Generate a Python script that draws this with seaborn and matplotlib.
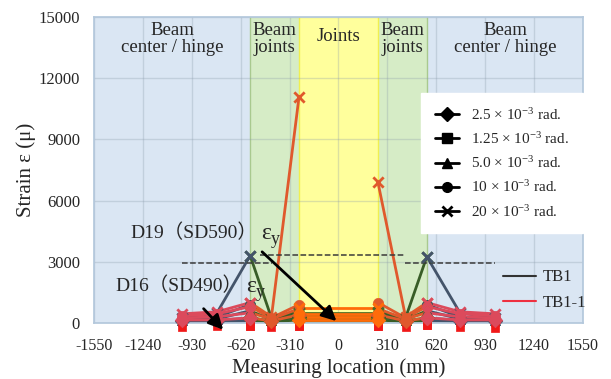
import numpy as np
import pandas as pd
import matplotlib.pyplot as plt
import matplotlib.lines as mlines
import seaborn as sns

# measuring locations (mm)
locations = [-990, -770, -560, -425, -250, 250, 425, 560, 770, 990]

# strain (micro) per drift level, TB1
tb1_125 = [50, 60, 100, 60, 150, 150, 60, 100, 60, 50]
tb1_25 = [100, 120, 250, 100, 300, 300, 100, 250, 120, 100]
tb1_50 = [150, 200, 600, 150, 400, 400, 150, 600, 200, 150]
tb1_10 = [200, 300, 900, 200, 500, 500, 200, 900, 300, 200]
tb1_20 = [250, 500, 3300, 250, 550, 550, 250, 3250, 500, 250]

# strain (micro) per drift level, TB1-1
tb11_125 = [-200, -150, -150, -200, -150, -150, -200, -100, -200, -250]
tb11_25 = [150, 150, 250, 100, 400, 400, 100, 250, 150, 150]
tb11_50 = [250, 300, 500, 200, 700, 700, 200, 500, 300, 250]
tb11_10 = [350, 450, 800, 250, 900, 1000, 250, 800, 450, 350]
tb11_20 = [450, 550, 1000, 300, 11100, 6900, 300, 1000, 550, 450]

# values inside the joint zone at -250 / 250
tb1_joint = [[100, 100], [200, 200], [300, 300], [400, 400], [500, 500]]
tb11_joint = [[-150, -150], [150, 150], [300, 300], [450, 450], [750, 750]]

drifts = ['1.25', '2.5', '5.0', '10', '20']
legend_order = ['2.5', '1.25', '5.0', '10', '20']
markers = {'1.25': 's', '2.5': 'D', '5.0': '^', '10': 'o', '20': 'x'}

zones = [('Beam\ncenter / hinge', -1550, -560, '#dae6f3'),
         ('Beam\njoints', -560, -250, '#d6ecc6'),
         ('Joints', -250, 250, '#ffff9c'),
         ('Beam\njoints', 250, 560, '#d6ecc6'),
         ('Beam\ncenter / hinge', 560, 1550, '#dae6f3')]

colors = {('TB1', 'outer'): '#44546a', ('TB1', 'bj'): '#385d27', ('TB1', 'joint'): '#4f6b22',
          ('TB1-1', 'outer'): '#dc4a5c', ('TB1-1', 'bj'): '#e0592c', ('TB1-1', 'joint'): '#ff6c0a'}

# build long table split into segments by zone
segments = [('outer', [0, 1, 2]), ('bj', [2, 3, 4]), ('bj', [5, 6, 7]), ('outer', [7, 8, 9])]
rows = []
for spec, series, joints in [('TB1', [tb1_125, tb1_25, tb1_50, tb1_10, tb1_20], tb1_joint),
                             ('TB1-1', [tb11_125, tb11_25, tb11_50, tb11_10, tb11_20], tb11_joint)]:
    for d, vals, jv in zip(drifts, series, joints):
        for k, (zone, idx) in enumerate(segments):
            for i in idx:
                rows.append((spec, d, zone, k, locations[i], vals[i]))
        rows.append((spec, d, 'joint', 9, -250, jv[0]))
        rows.append((spec, d, 'joint', 9, 250, jv[1]))
df = pd.DataFrame(rows, columns=['specimen', 'drift', 'zone', 'seg', 'loc', 'strain'])

sns.set_theme(style='white')
plt.rcParams['font.family'] = ['Liberation Serif', 'Noto Sans CJK JP']
plt.rcParams['mathtext.fontset'] = 'custom'
plt.rcParams['mathtext.rm'] = 'Liberation Serif'
plt.rcParams['mathtext.it'] = 'Liberation Serif:italic'
plt.rcParams['axes.unicode_minus'] = False

fig = plt.figure(figsize=(6.11, 3.79), dpi=100)
ax = fig.add_axes([0.1538, 0.1478, 0.8004, 0.8074])

for name, x0, x1, c in zones:
    ax.axvspan(x0, x1, color=c, zorder=0.2, lw=0)
    ax.text((x0 + x1) / 2, 14750 if name != 'Joints' else 14450, name, ha='center', va='top',
            fontsize=13.5, linespacing=1.0)
for xb, c in [(-560, '#a9c98f'), (560, '#a9c98f'), (-250, '#f0f050'), (250, '#f0f050')]:
    ax.axvline(xb, color=c, lw=1, zorder=0.3)

for spec in ['TB1', 'TB1-1']:
    for d in drifts:
        for (zone, seg), g in df[(df.specimen == spec) & (df.drift == d)].groupby(['zone', 'seg']):
            c = colors[(spec, zone)]
            sns.lineplot(data=g, x='loc', y='strain', color=c, lw=2, estimator=None,
                         sort=False, ax=ax, legend=False, zorder=2)
            mc = '#f01818' if (spec == 'TB1-1' and d == '1.25') else c
            sns.scatterplot(data=g, x='loc', y='strain', color=mc, marker=markers[d],
                            s=40 if d == '1.25' else 55, edgecolor=mc,
                            linewidth=2 if d == '20' else 0.5, ax=ax,
                            legend=False, zorder=3, clip_on=False)

# yield strain lines
ax.plot([-500, 420], [3330, 3330], ls='--', color='#3a3a3a', lw=1.1, zorder=2.5)
ax.plot([-990, -420], [2950, 2950], ls='--', color='#3a3a3a', lw=1.1, zorder=2.5)
ax.plot([420, 990], [2950, 2950], ls='--', color='#3a3a3a', lw=1.1, zorder=2.5)
for label, x, y in [('D19（SD590）', -1322, 4410), ('D16（SD490）', -1417, 1810)]:
    t = ax.text(x, y, label, ha='left', va='center', fontsize=14)
    e = ax.annotate('ε', xy=(1.0, 0.5), xycoords=t, xytext=(3, 0), textcoords='offset points',
                    ha='left', va='center', fontsize=17)
    ax.annotate('y', xy=(1.0, 0.2), xycoords=e, ha='left', va='center', fontsize=13)
arrow = dict(arrowstyle='-|>', lw=2, color='black', mutation_scale=22)
ax.annotate('', xy=(0, 0), xytext=(-497, 3580), arrowprops=arrow, annotation_clip=False)
ax.annotate('', xy=(-719, -430), xytext=(-867, 800), arrowprops=arrow, annotation_clip=False)

ax.set_xlim(-1550, 1550)
ax.set_ylim(0, 15000)
ax.set_xticks(np.arange(-1550, 1551, 310))
ax.set_yticks(np.arange(0, 15001, 3000))
ax.tick_params(axis='x', labelsize=11.5, pad=11, length=0)
ax.tick_params(axis='y', labelsize=12, pad=10, length=0)
ax.grid(True, color='#8a9aaa', alpha=0.3, lw=1)
ax.set_axisbelow(True)
for s in ax.spines.values():
    s.set_color('#b4c8dc')
ax.set_xlabel('Measuring location (mm)', fontsize=15, labelpad=3)
ax.set_ylabel('Strain ε (μ)', fontsize=15, labelpad=2)

labels = {'2.5': '2.5 × 10$^{\\mathrm{-3}}$ rad.', '1.25': '1.25 × 10$^{\\mathrm{-3}}$ rad.',
          '5.0': '5.0 × 10$^{\\mathrm{-3}}$ rad.', '10': '10 × 10$^{\\mathrm{-3}}$ rad.',
          '20': '20 × 10$^{\\mathrm{-3}}$ rad.'}
h1 = [mlines.Line2D([], [], color='black', lw=2, marker=markers[d], markersize=7,
                    markeredgewidth=2 if d == '20' else 1) for d in legend_order]
leg1 = ax.legend(h1, [labels[d] for d in legend_order], loc='upper right',
                 bbox_to_anchor=(1.0, 0.752), fontsize=11, frameon=True, fancybox=False,
                 framealpha=1, facecolor='white', edgecolor='white', handlelength=1.6,
                 labelspacing=0.55, borderpad=0.9, borderaxespad=0)
ax.add_artist(leg1)
h2 = [mlines.Line2D([], [], color='#333333', lw=1.5), mlines.Line2D([], [], color='#ee3040', lw=1.5)]
ax.legend(h2, ['TB1', 'TB1-1'], loc='center left', bbox_to_anchor=(0.822, 0.108), fontsize=12,
          frameon=False, handlelength=2.0, handletextpad=0.4, labelspacing=0.55, borderaxespad=0)

fig.savefig('out.png', dpi=100)
